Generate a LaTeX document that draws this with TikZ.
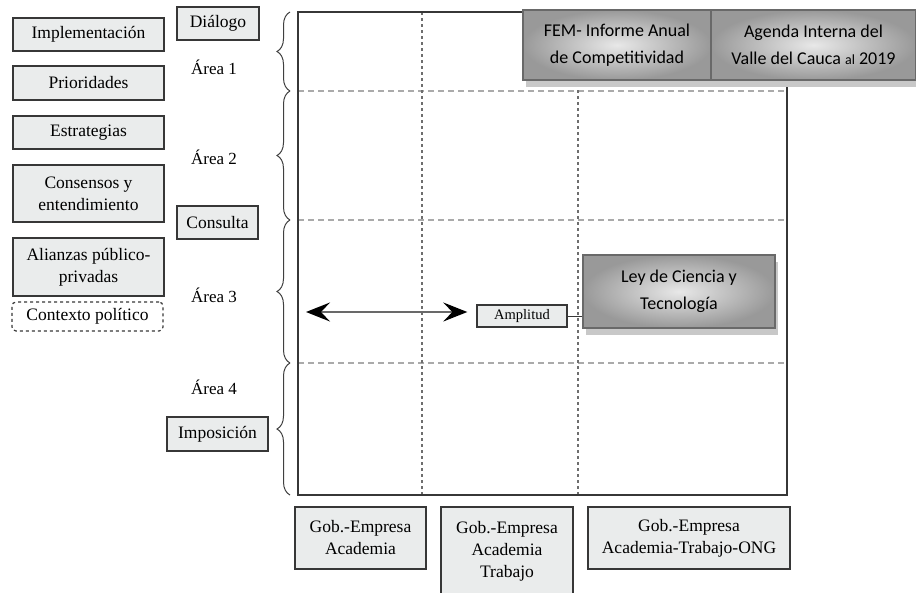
\documentclass[tikz,border=0pt]{standalone}
\usepackage{fontspec}
\setmainfont{Liberation Serif}
\newfontfamily\calibri{Carlito}
\usetikzlibrary{arrows.meta,decorations.pathreplacing,shadows}
\definecolor{vcbox}{RGB}{234,236,236}
\definecolor{vcedge}{RGB}{55,55,55}
\definecolor{vcgrid}{RGB}{170,170,170}
\definecolor{vcdot}{RGB}{110,110,110}
\definecolor{vcdark}{RGB}{105,105,105}
\definecolor{vcshadow}{RGB}{200,200,200}
\tikzset{
  lbox/.style={draw=vcedge,line width=1.4pt,fill=vcbox,align=center,inner sep=0pt,
    font=\fontsize{17.5}{22}\selectfont},
  gbox/.style={draw=vcdark,line width=1.2pt,inner color=gray!18,outer color=gray!80,
    align=center,inner sep=0pt,font=\calibri\fontsize{18}{27}\selectfont,
    drop shadow={shadow xshift=3pt,shadow yshift=-7pt,fill=vcshadow,opacity=1}},
  arealab/.style={font=\fontsize{17}{22}\selectfont},
  brc/.style={decorate,decoration={brace,amplitude=13pt},line width=1pt,black!75},
  rowline/.style={vcgrid,line width=1.4pt,dash pattern=on 6pt off 4pt},
  colline/.style={vcdot,line width=2pt,dash pattern=on 3pt off 3pt},
}
\begin{document}
\begin{tikzpicture}[x=1pt,y=-1pt]
  \useasboundingbox (0,0) rectangle (916,592);
  % grid of areas
  \foreach \y in {91,220,363}
    {\draw[rowline] (298,\y) -- (787,\y);}
  \foreach \x in {422,578}
    {\draw[colline] (\x,12) -- (\x,495);}
  \draw[vcedge,line width=1.5pt] (298,12) rectangle (787,495);
  \foreach \a/\b in {12/91,91/220,220/363,363/495}
    {\draw[brc] (290,\b) -- (290,\a);}
  \foreach \i/\y in {1/67,2/157,3/295,4/387}
    {\node[arealab] (area\i) at (214,\y) {Área \i};}
  % left column
  \foreach \n/\y/\h/\lab in {impl/34.5/33/Implementación, prio/83/34/Prioridades,
      estr/132.5/33/Estrategias, cons/193.5/57/{Consensos y\\entendimiento},
      alia/267/58/{Alianzas público-\\privadas}}
    {\node[lbox,minimum width=151pt,minimum height=\h pt] (\n) at (88.5,\y) {\lab};}
  \node[draw=vcedge,dashed,rounded corners=4pt,line width=1.2pt,minimum width=151pt,
    minimum height=29pt,font=\fontsize{17.5}{22}\selectfont] (ctx) at (87.5,316.5) {Contexto político};
  \node[lbox,minimum width=82pt,minimum height=33pt] (dial) at (218,23.5) {Diálogo};
  \node[lbox,minimum width=81pt,minimum height=33pt] (cons2) at (217.5,222.5) {Consulta};
  \node[lbox,minimum width=101pt,minimum height=34pt] (impo) at (217.5,434) {Imposición};
  % inside the grid
  \node[lbox,minimum width=90pt,minimum height=22pt,font=\fontsize{14.5}{17}\selectfont]
    (amp) at (522,316) {Amplitud};
  \node[gbox,minimum width=192pt,minimum height=73pt] (ley) at (679,291.5)
    {Ley de Ciencia y\\Tecnología};
  \coordinate (aL) at (306,312);
  \draw[{Stealth[length=24pt,width=19pt,inset=9pt,black]}-{Stealth[length=24pt,width=19pt,inset=9pt,black]},
    vcdark,line width=1.8pt,shorten >=9pt] (aL) -- (aL -| amp.west);
  \draw[vcedge,line width=1pt] (amp.east) -- (amp.east -| ley.west);
  \node[gbox,minimum width=188pt,minimum height=70pt] (fem) at (617,45)
    {FEM- Informe Anual\\de Competitividad};
  \node[gbox,minimum width=205pt,minimum height=70pt] (agen) at (813.5,45)
    {Agenda Interna del\\Valle del Cauca {\fontsize{14}{27}\selectfont al} 2019};
  % bottom row
  \node[lbox,minimum width=131pt,minimum height=62pt] (gob1) at (360.5,538)
    {Gob.-Empresa\\Academia};
  \node[lbox,minimum width=132pt,minimum height=88pt] (gob2) at (507,551)
    {Gob.-Empresa\\Academia\\Trabajo};
  \node[lbox,minimum width=202pt,minimum height=62pt] (gob3) at (689,538)
    {Gob.-Empresa\\Academia-Trabajo-ONG};
\end{tikzpicture}
\end{document}
